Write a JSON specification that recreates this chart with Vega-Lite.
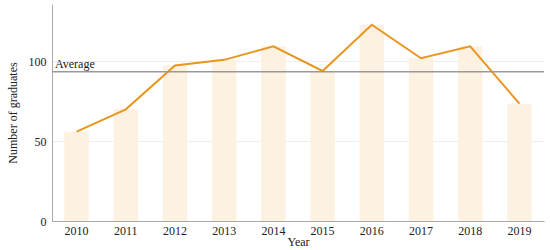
{
  "$schema": "https://vega.github.io/schema/vega-lite/v6.json",
  "width": 550,
  "height": 250,
  "autosize": {"type": "fit", "contains": "padding"},
  "padding": {"left": 6, "top": 4, "right": 5, "bottom": 3},
  "config": {
    "font": "Liberation Serif",
    "view": {"stroke": null},
    "axis": {"labelFont": "Liberation Serif", "titleFont": "Liberation Serif", "labelFontSize": 12, "titleFontSize": 12, "titleFontWeight": "normal", "labelColor": "#222", "titleColor": "#222", "ticks": false, "domainColor": "#aaa", "gridColor": "#eee"}
  },
  "data": {
    "values": [
      {"Year": "2010", "Graduates": 56},
      {"Year": "2011", "Graduates": 70},
      {"Year": "2012", "Graduates": 97.5},
      {"Year": "2013", "Graduates": 101},
      {"Year": "2014", "Graduates": 109.5},
      {"Year": "2015", "Graduates": 94},
      {"Year": "2016", "Graduates": 123},
      {"Year": "2017", "Graduates": 102},
      {"Year": "2018", "Graduates": 109.5},
      {"Year": "2019", "Graduates": 73.5}
    ]
  },
  "layer": [
    {
      "mark": {"type": "bar", "color": "#fdf1e2"},
      "encoding": {
        "x": {"field": "Year", "type": "ordinal", "scale": {"paddingInner": 0.5, "paddingOuter": 0.25}, "axis": {"labelAngle": 0, "labelPadding": 4, "titlePadding": 0, "grid": false}},
        "y": {"field": "Graduates", "type": "quantitative", "scale": {"domain": [0, 136], "nice": false}, "axis": {"values": [0, 50, 100], "title": "Number of graduates", "titlePadding": 9, "labelPadding": 6, "domain": true}}
      }
    },
    {
      "mark": {"type": "line", "color": "#e8961e", "strokeWidth": 2},
      "encoding": {
        "x": {"field": "Year", "type": "ordinal"},
        "y": {"field": "Graduates", "type": "quantitative"}
      }
    },
    {
      "mark": {"type": "rule", "color": "#999", "strokeWidth": 1.5},
      "encoding": {
        "y": {"aggregate": "mean", "field": "Graduates", "type": "quantitative"}
      }
    },
    {
      "mark": {"type": "text", "text": "Average", "align": "left", "baseline": "bottom", "dx": 3, "dy": -1, "fontSize": 12, "font": "Liberation Serif", "color": "#222"},
      "encoding": {
        "x": {"value": 0},
        "y": {"aggregate": "mean", "field": "Graduates", "type": "quantitative"}
      }
    }
  ]
}
